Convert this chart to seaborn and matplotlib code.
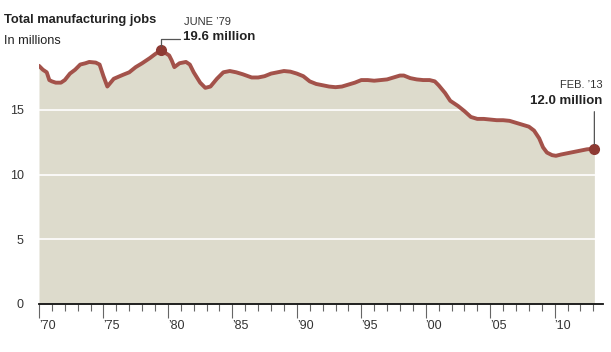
import numpy as np
import pandas as pd
import seaborn as sns
from matplotlib import pyplot as plt
from matplotlib.ticker import MultipleLocator, FixedLocator

# Total manufacturing jobs, millions
years = [1970.0, 1970.3, 1970.6, 1970.8, 1971.0, 1971.3, 1971.7, 1972.0, 1972.4, 1972.8,
         1973.2, 1973.6, 1973.9, 1974.4, 1974.7, 1975.0, 1975.3, 1975.8, 1976.5, 1977.0,
         1977.5, 1978.0, 1978.6, 1979.0, 1979.45, 1979.8, 1980.1, 1980.3, 1980.5, 1980.9,
         1981.4, 1981.7, 1982.0, 1982.5, 1982.9, 1983.3, 1983.8, 1984.3, 1984.8, 1985.3,
         1985.8, 1986.5, 1987.0, 1987.5, 1988.0, 1988.5, 1989.0, 1989.5, 1990.0, 1990.5,
         1991.0, 1991.5, 1992.0, 1992.5, 1993.0, 1993.5, 1994.0, 1994.5, 1995.0, 1995.5,
         1996.0, 1996.5, 1997.0, 1997.5, 1998.0, 1998.3, 1998.8, 1999.3, 1999.8, 2000.3,
         2000.7, 2001.0, 2001.5, 2001.9, 2002.5, 2003.0, 2003.5, 2004.0, 2004.5, 2005.0,
         2005.5, 2006.0, 2006.5, 2007.0, 2007.5, 2008.0, 2008.4, 2008.8, 2009.1, 2009.4,
         2009.8, 2010.1, 2010.5, 2011.0, 2011.5, 2012.0, 2012.5, 2013.08]
jobs = [18.4, 18.1, 17.9, 17.3, 17.2, 17.1, 17.1, 17.3, 17.8, 18.1,
        18.5, 18.6, 18.7, 18.65, 18.5, 17.6, 16.8, 17.4, 17.7, 17.9,
        18.3, 18.6, 19.0, 19.3, 19.6, 19.4, 19.2, 18.8, 18.3, 18.6,
        18.7, 18.5, 17.9, 17.1, 16.7, 16.8, 17.4, 17.9, 18.0, 17.9,
        17.75, 17.5, 17.5, 17.6, 17.8, 17.9, 18.0, 17.95, 17.8, 17.6,
        17.2, 17.0, 16.9, 16.8, 16.75, 16.8, 16.95, 17.1, 17.3, 17.3,
        17.25, 17.3, 17.35, 17.5, 17.65, 17.65, 17.45, 17.35, 17.3, 17.3,
        17.2, 16.9, 16.3, 15.7, 15.3, 14.9, 14.45, 14.3, 14.3, 14.25,
        14.2, 14.2, 14.15, 14.0, 13.85, 13.7, 13.4, 12.8, 12.1, 11.7,
        11.5, 11.45, 11.55, 11.65, 11.75, 11.85, 11.95, 12.0]

peak_year, peak_val = 1979.45, 19.6
last_year, last_val = 2013.08, 12.0

df = pd.DataFrame({"year": years, "jobs": jobs})

sns.set_style("white")
plt.rcParams['font.family'] = ['Liberation Sans', 'DejaVu Sans']

fill_color = "#dddbcc"
line_color = "#a3524a"
dot_color = "#8e3a33"

fig = plt.figure(figsize=(6.11, 3.52), dpi=100)
ax = fig.add_axes([39 / 611, 1 - 304 / 352, 564 / 611, (304 - 38) / 352])

ax.fill_between(df["year"], 0, df["jobs"], color=fill_color, linewidth=0, zorder=1)
for g in [5, 10, 15]:
    ax.axhline(g, color="white", linewidth=1.2, zorder=2)
sns.lineplot(data=df, x="year", y="jobs", ax=ax, color=line_color, linewidth=2.8, zorder=3)
ax.plot([peak_year, last_year], [peak_val, last_val], "o", color=dot_color,
        markersize=7, zorder=4)

ax.set_xlim(1970, 2013.75)
ax.set_ylim(0, 20.55)
ax.set_xlabel("")
ax.set_ylabel("")

for s in ["top", "right", "left"]:
    ax.spines[s].set_visible(False)
ax.spines["bottom"].set_color("#111111")
ax.spines["bottom"].set_linewidth(1.3)

ax.xaxis.set_major_locator(FixedLocator(list(range(1970, 2011, 5))))
ax.xaxis.set_minor_locator(MultipleLocator(1))
ax.set_xticklabels(["\u2019%02d" % (y % 100) for y in range(1970, 2011, 5)])
for lbl in ax.get_xticklabels():
    lbl.set_horizontalalignment("left")
ax.tick_params(axis="x", which="both", bottom=True, direction="out")
ax.tick_params(axis="x", which="major", length=10, width=0.8, color="#666666",
               pad=1.5, labelsize=9, labelcolor="#333333")
ax.tick_params(axis="x", which="minor", length=5, width=0.8, color="#666666")

ax.set_yticks([0, 5, 10, 15])
ax.tick_params(axis="y", left=False, length=0, pad=11, labelsize=9, labelcolor="#333333")

# titles
fig.text(4 / 611, 1 - 20 / 352, "Total manufacturing jobs", fontsize=9.3,
         fontweight="bold", color="#222222", va="center", ha="left")
fig.text(4 / 611, 1 - 41 / 352, "In millions", fontsize=9.2,
         color="#222222", va="center", ha="left")

# peak annotation
ax.annotate("", xy=(peak_year, peak_val), xytext=(19, 11), textcoords="offset pixels",
            arrowprops=dict(arrowstyle="-", color="#555555", linewidth=0.9,
                            connectionstyle="angle,angleA=0,angleB=90,rad=0",
                            shrinkA=0, shrinkB=3), zorder=5)
ax.annotate("JUNE \u201979", xy=(peak_year, peak_val), xytext=(23, 28),
            textcoords="offset pixels", fontsize=8, color="#333333",
            ha="left", va="center")
ax.annotate("19.6 million", xy=(peak_year, peak_val), xytext=(22, 13),
            textcoords="offset pixels", fontsize=9.5, fontweight="bold",
            color="#222222", ha="left", va="center")

# last value annotation
ax.annotate("", xy=(last_year, last_val), xytext=(0, 37), textcoords="offset pixels",
            arrowprops=dict(arrowstyle="-", color="#555555", linewidth=0.9,
                            shrinkA=0, shrinkB=3), zorder=5)
ax.annotate("FEB. \u201913", xy=(last_year, last_val), xytext=(8, 64),
            textcoords="offset pixels", fontsize=8, color="#333333",
            ha="right", va="center")
ax.annotate("12.0 million", xy=(last_year, last_val), xytext=(8, 48),
            textcoords="offset pixels", fontsize=9.5, fontweight="bold",
            color="#222222", ha="right", va="center")

fig.savefig("out.png", dpi=100)
